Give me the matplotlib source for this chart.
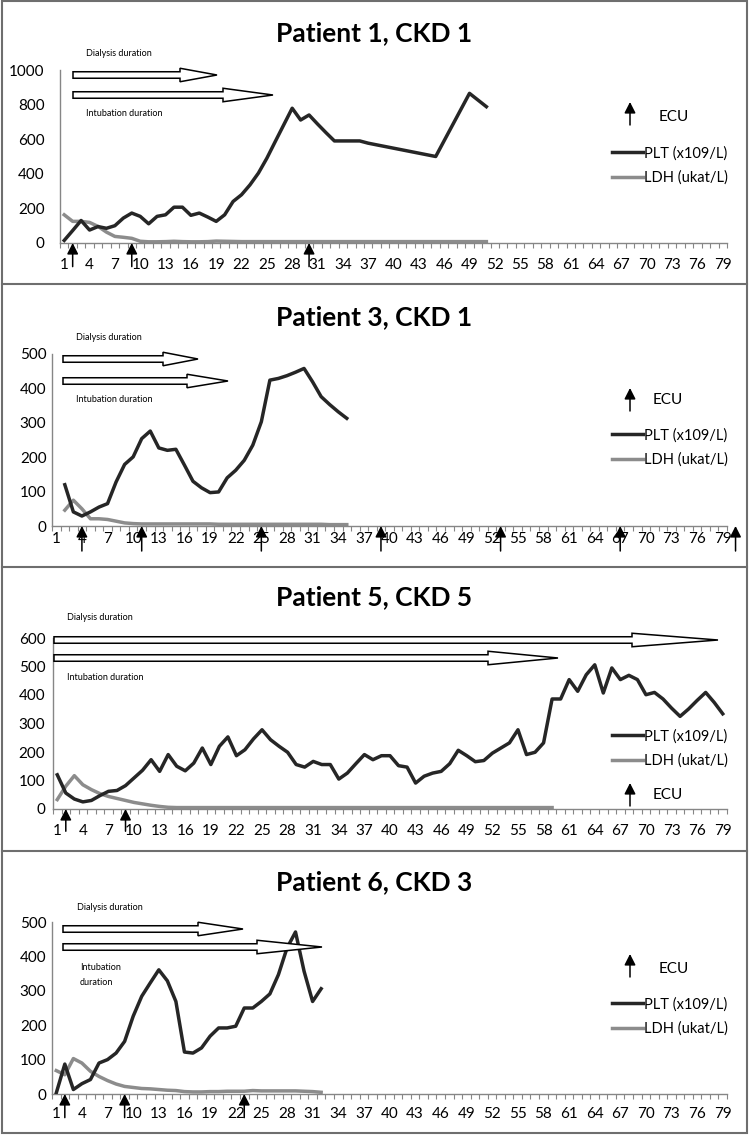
import numpy as np
import matplotlib
matplotlib.use("Agg")
from matplotlib import pyplot as plt
from matplotlib.patches import Polygon, Rectangle, FancyArrowPatch
from matplotlib.lines import Line2D

plt.rcParams['font.family'] = ['Lato', 'DejaVu Sans']

W, H = 749, 1137

# ---- data ----
titles = ["Patient 1, CKD 1", "Patient 3, CKD 1", "Patient 5, CKD 5", "Patient 6, CKD 3"]
y_max = [1000, 500, 600, 500]
y_step = [200, 100, 100, 100]

# patient 1
p1_plt_days = list(range(1, 38)) + [45, 49, 51]
p1_plt = [15, 72, 130, 75, 95, 85, 100, 144, 173, 154, 111, 154, 163, 207, 207, 160, 173, 150, 125, 163,
          240, 279, 336, 404, 490, 587, 683, 779, 711, 740, 688, 638, 590, 590, 590, 590, 577,
          500, 865, 788]
p1_ldh_days = list(range(1, 52))
p1_ldh = [163, 125, 125, 119, 96, 63, 38, 33, 27, 10, 7, 7, 8, 10, 8, 7, 7, 8, 11, 10,
          9, 8, 8, 8, 8, 8, 8, 8, 8, 8, 8, 8, 8, 8, 8, 8, 8, 8, 8, 8,
          8, 8, 8, 8, 8, 8, 8, 8, 8, 8, 8]
p1_ecu = [2, 9, 30]

# patient 3
p3_plt_days = list(range(2, 36))
p3_plt = [120, 41, 29, 41, 55, 65, 128, 179, 201, 254, 276, 227, 220, 223, 177, 130, 111, 97, 99, 140,
          162, 191, 235, 303, 424, 429, 437, 447, 458, 419, 376, 353, 332, 313]
p3_ldh_days = list(range(2, 36))
p3_ldh = [46, 75, 50, 21, 21, 19, 14, 9, 7, 6, 6, 6, 6, 6, 6, 6, 6, 6, 5, 5,
          5, 5, 5, 5, 5, 5, 5, 5, 5, 5, 5, 4, 4, 4]
p3_ecu = [4, 11, 25, 39, 53, 67, 80.5]

# patient 5
p5_plt_days = list(range(1, 80))
p5_plt = [120, 56, 35, 25, 30, 47, 62, 65, 82, 109, 136, 173, 132, 191, 150, 134, 161, 214, 156, 220,
          253, 187, 208, 246, 278, 243, 220, 199, 156, 147, 167, 156, 156, 105, 126, 159, 191, 173, 187, 187,
          152, 147, 91, 115, 126, 132, 159, 206, 187, 166, 170, 196, 214, 232, 278, 191, 199, 232, 386, 386,
          454, 413, 471, 506, 407, 495, 454, 469, 454, 401, 409, 386, 354, 325, 351, 381, 409, 374, 334]
p5_ldh_days = list(range(1, 60))
p5_ldh = [33, 80, 117, 85, 68, 54, 44, 37, 30, 23, 18, 13, 9, 6, 5, 5, 5, 5, 5, 5,
          5, 5, 5, 5, 5, 5, 5, 5, 5, 5, 5, 5, 5, 5, 5, 5, 5, 5, 5, 5,
          5, 5, 5, 5, 5, 5, 5, 5, 5, 5, 5, 5, 5, 5, 5, 5, 5, 5, 5]
p5_ecu = [2, 9]

# patient 6
p6_plt_days = list(range(1, 33))
p6_plt = [3, 87, 13, 30, 42, 90, 100, 119, 153, 226, 284, 323, 361, 329, 269, 122, 119, 134, 168, 192,
          192, 197, 250, 250, 269, 291, 347, 424, 471, 357, 269, 306]
p6_ldh_days = list(range(1, 33))
p6_ldh = [68, 56, 103, 90, 66, 51, 39, 29, 22, 19, 16, 15, 13, 11, 10, 7, 6, 6, 7, 7,
          8, 8, 8, 10, 9, 9, 9, 9, 9, 8, 7, 5]
p6_ecu = [2, 9, 23]

panels = [
    (p1_plt_days, p1_plt, p1_ldh_days, p1_ldh, p1_ecu),
    (p3_plt_days, p3_plt, p3_ldh_days, p3_ldh, p3_ecu),
    (p5_plt_days, p5_plt, p5_ldh_days, p5_ldh, p5_ecu),
    (p6_plt_days, p6_plt, p6_ldh_days, p6_ldh, p6_ecu),
]

# ---- layout (pixels, from top-left) ----
axes_box = [(60, 727, 70, 243), (52, 727, 354, 526), (53, 727, 638, 809), (52, 727, 922, 1094)]
title_y = [33, 317, 597, 882]
xlabel_pad = [7, 1, 7.5, 6]
ylabel_pad = [11, 4, 5.5, 4]
ecu_len = [17, 18, 16, 17]
# (x0, x1, yc, head length) for dialysis / intubation arrows
dial_arrow = [(73, 217, 75, 37), (63, 198, 359, 35), (54, 718, 640, 86), (63, 243, 929, 45)]
intu_arrow = [(73, 273, 95, 50), (63, 228, 381, 41), (54, 558, 658, 70), (63, 322, 947, 65)]
dial_label = [(86, 53), (76, 337), (67, 617), (77, 908)]
intu_label = [(86, 113, "Intubation duration"), (76, 399, "Intubation duration"),
              (67, 678, "Intubation duration"), (80, 975, "Intubation\nduration")]
legend_top = [146, 428, 729, 997]
ecu_legend = [(630, 125, 659, 117), (630, 411, 653, 400), (630, 806, 653, 795), (630, 977, 659, 969)]

PLT_C = "#262626"
LDH_C = "#8c8c8c"
AX_C = "#868686"


def fx(x):
    return x / W


def fy(y):
    return 1 - y / H


def block_arrow(fig, x0, x1, yc, head_l, shaft_h=6.5, head_h=13.5):
    xh = x1 - head_l
    pts = [(x0, yc - shaft_h / 2), (xh, yc - shaft_h / 2), (xh, yc - head_h / 2), (x1, yc),
           (xh, yc + head_h / 2), (xh, yc + shaft_h / 2), (x0, yc + shaft_h / 2)]
    poly = Polygon([(fx(a), fy(b)) for a, b in pts], closed=True, facecolor="white",
                   edgecolor="black", linewidth=1.1, transform=fig.transFigure)
    fig.add_artist(poly)


fig = plt.figure(figsize=(W / 100, H / 100), dpi=100)

# panel frames
fig.add_artist(Rectangle((fx(2), fy(1133)), fx(745), (1133 - 1) / H, transform=fig.transFigure,
                         facecolor="none", edgecolor="#6e6e6e", linewidth=1.5))
for ysep in [284, 567, 851]:
    fig.add_artist(Line2D([fx(2), fx(747)], [fy(ysep), fy(ysep)], transform=fig.transFigure,
                          color="#6e6e6e", linewidth=1.5))

for i, (pd, pv, ld, lv, ecu) in enumerate(panels):
    left, right, top, bottom = axes_box[i]
    ax = fig.add_axes([fx(left), fy(bottom), (right - left) / W, (bottom - top) / H])
    l1, = ax.plot(pd, pv, color=PLT_C, linewidth=2.5, solid_joinstyle="round", zorder=3)
    l2, = ax.plot(ld, lv, color=LDH_C, linewidth=2.5, solid_joinstyle="round", zorder=2)
    ax.set_xlim(0.5, 79.5)
    ax.set_ylim(0, y_max[i])
    ax.set_yticks(np.arange(0, y_max[i] + 1, y_step[i]))
    ax.set_xticks(np.arange(1, 80, 3))
    ax.set_xticks(np.arange(0.5, 80, 1), minor=True)
    ax.tick_params(axis="x", which="major", length=0, pad=xlabel_pad[i] + 3.6, labelsize=11)
    ax.tick_params(axis="x", which="minor", length=3.6, width=0.8, color=AX_C, direction="out")
    ax.tick_params(axis="y", length=0, pad=ylabel_pad[i], labelsize=11)
    for s in ["top", "right"]:
        ax.spines[s].set_visible(False)
    for s in ["left", "bottom"]:
        ax.spines[s].set_color(AX_C)
        ax.spines[s].set_linewidth(1.0)
    ax.patch.set_alpha(0)

    for d in ecu:
        ax.annotate("", xy=(d, 0), xycoords="data", xytext=(0, -ecu_len[i]), textcoords="offset points",
                    arrowprops=dict(arrowstyle="-|>,head_length=0.55,head_width=0.28", color="black",
                                    lw=1.1, shrinkA=0, shrinkB=0, mutation_scale=12),
                    annotation_clip=False)

    fig.text(fx(374), fy(title_y[i]), titles[i], ha="center", va="center", fontsize=19, fontweight="bold")

    block_arrow(fig, *dial_arrow[i])
    block_arrow(fig, *intu_arrow[i])
    fig.text(fx(dial_label[i][0]), fy(dial_label[i][1]), "Dialysis duration", ha="left", va="center",
             fontsize=6.5)
    fig.text(fx(intu_label[i][0]), fy(intu_label[i][1]), intu_label[i][2], ha="left", va="center",
             fontsize=6.5, linespacing=1.8)

    ax.legend([l1, l2], ["PLT (x109/L)", "LDH (ukat/L)"], loc="upper left",
              bbox_to_anchor=(fx(612), fy(legend_top[i])), bbox_transform=fig.transFigure,
              frameon=False, fontsize=10.5, handlelength=2.15, handletextpad=0.05,
              borderpad=0, borderaxespad=0, labelspacing=0.72)

    ax_x, ay0, tx, ty = ecu_legend[i]
    fig.add_artist(FancyArrowPatch((fx(ax_x), fy(ay0)), (fx(ax_x), fy(ay0 - 23)),
                                   transform=fig.transFigure,
                                   arrowstyle="-|>,head_length=0.55,head_width=0.28",
                                   color="black", lw=1.1, mutation_scale=12,
                                   shrinkA=0, shrinkB=0))
    fig.text(fx(tx), fy(ty), "ECU", ha="left", va="center", fontsize=11)

fig.savefig("out.png", dpi=100)
